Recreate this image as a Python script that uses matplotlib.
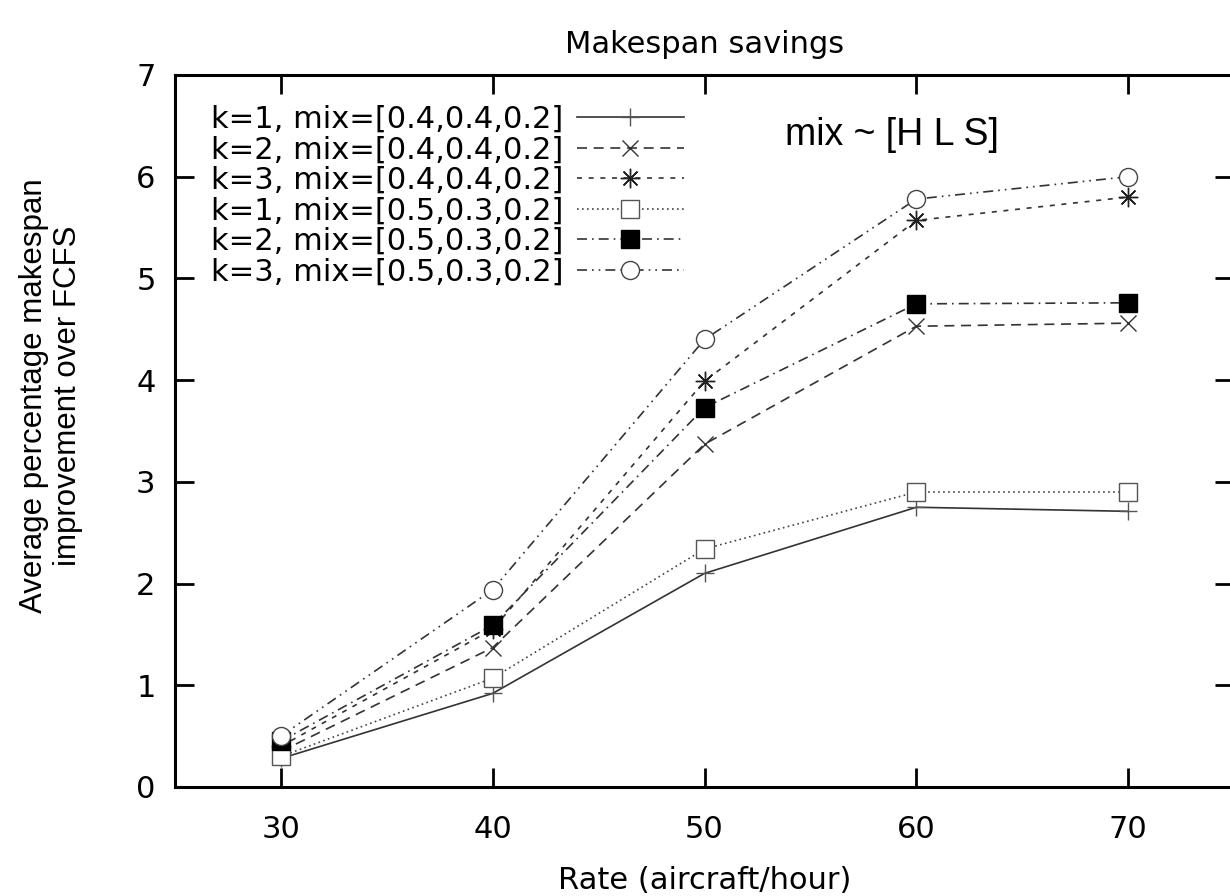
import matplotlib
matplotlib.use("Agg")
import matplotlib.pyplot as plt

plt.rcParams["font.family"] = ["DejaVu Sans"]

rates = [30, 40, 50, 60, 70]
k1_a = [0.28, 0.92, 2.10, 2.75, 2.71]
k2_a = [0.35, 1.37, 3.37, 4.53, 4.56]
k3_a = [0.40, 1.55, 3.99, 5.57, 5.80]
k1_b = [0.30, 1.07, 2.34, 2.90, 2.90]
k2_b = [0.45, 1.59, 3.73, 4.75, 4.76]
k3_b = [0.50, 1.94, 4.40, 5.78, 6.00]
labels = ["k=1, mix=[0.4,0.4,0.2]", "k=2, mix=[0.4,0.4,0.2]",
          "k=3, mix=[0.4,0.4,0.2]", "k=1, mix=[0.5,0.3,0.2]",
          "k=2, mix=[0.5,0.3,0.2]", "k=3, mix=[0.5,0.3,0.2]"]

fig = plt.figure(figsize=(12.3, 8.96), dpi=100)
ax = fig.add_axes([0.1423, 0.1217, 0.861, 0.7946])

fs = 22
lw = 1.2
ax.plot(rates, k1_a, color="#333333", lw=lw, ls="-", marker="+", ms=13,
        mec="#555555", label=labels[0])
ax.plot(rates, k2_a, color="#333333", lw=lw, ls=(0, (6, 4)), marker="x", ms=12,
        mec="#333333", label=labels[1])
ax.plot(rates, k3_a, color="#333333", lw=lw, ls=(0, (3, 4)), marker=(8, 2, 0), ms=14,
        mec="#222222", label=labels[2])
ax.plot(rates, k1_b, color="#444444", lw=lw, ls=(0, (1, 2)), marker="s", ms=13,
        mfc="white", mec="#555555", label=labels[3])
ax.plot(rates, k2_b, color="#333333", lw=lw, ls=(0, (6, 3, 1, 3)), marker="s", ms=13,
        mfc="black", mec="black", label=labels[4])
ax.plot(rates, k3_b, color="#333333", lw=lw, ls=(0, (6, 3, 1, 3, 1, 3)), marker="o", ms=13,
        mfc="white", mec="#444444", label=labels[5])

ax.set_xlim(25, 75)
ax.set_ylim(0, 7)
ax.set_xticks(rates)
ax.set_yticks(range(0, 8))
ax.tick_params(direction="in", length=14, width=2, top=True, right=True,
               labelsize=fs, pad=14)
ax.tick_params(axis="x", pad=20)
for s in ax.spines.values():
    s.set_linewidth(2.2)

ax.set_title("Makespan savings", fontsize=fs, pad=16)
ax.set_xlabel("Rate (aircraft/hour)", fontsize=fs, labelpad=16)
ax.set_ylabel("Average percentage makespan\nimprovement over FCFS", fontsize=22.5,
              family="Liberation Sans", linespacing=1.17)
ax.yaxis.set_label_coords(-0.087, 0.549)

ax.legend(loc="upper left", bbox_to_anchor=(0.022, 0.975), frameon=False,
          markerfirst=False, fontsize=fs, handlelength=3.5, handletextpad=0.45,
          labelspacing=0.05, borderaxespad=0.0)

ax.text(53.8, 6.41, "mix ~ [H L S]", fontsize=27, family="Liberation Sans",
        va="center", ha="left")

fig.savefig("out.png", dpi=100)
